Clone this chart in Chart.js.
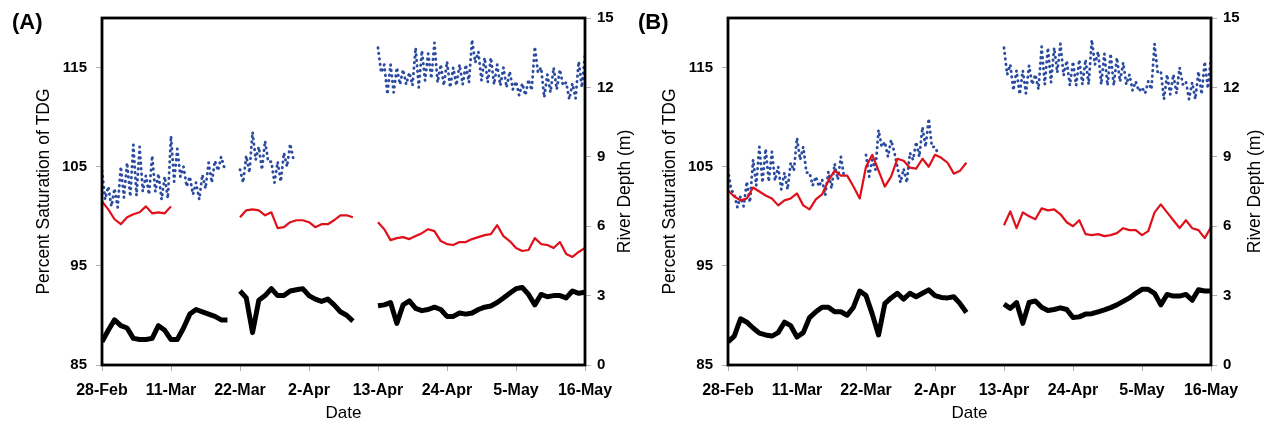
<!DOCTYPE html>
<html>
<head>
<meta charset="utf-8">
<script src="https://cdn.jsdelivr.net/npm/chart.js@4"></script>
<style>
  body { margin: 0; background: #fff; width: 1270px; height: 425px; overflow: hidden; position: relative; font-family: 'Liberation Sans', Arial, sans-serif; }
  canvas { position: absolute; top: 0; }
  .tag { position: absolute; top: 11px; font-weight: bold; font-size: 22px; line-height: 22px; }
</style>
</head>
<body>
<canvas id="chartA" width="635" height="425" style="left:0"></canvas>
<canvas id="chartB" width="635" height="425" style="left:635px"></canvas>
<div class="tag" style="left:12px">(A)</div>
<div class="tag" style="left:638px">(B)</div>
<script>
// axes
const dateLabels = ['28-Feb', '11-Mar', '22-Mar', '2-Apr', '13-Apr', '24-Apr', '5-May', '16-May'];
const dayTicks = [0, 11, 22, 33, 44, 55, 66, 77];
const tdgTicks = [85, 95, 105, 115];
const depthTicks = [0, 3, 6, 9, 12, 15];
const days = [...Array(78).keys()]; // days since 28-Feb

const n = null;

// panel A - daily max / min of the dotted TDG record
const blueMaxA = [104.6, 103.0, 102.8, 105.0, 105.4, 107.2, 107.0, 104.1, 106.1, 104.3, 104.0, 108.1, 106.8, 105.0, 104.0, 103.4, 104.2, 105.4, 105.6, 106.0,
  n, n,
  104.7, 106.1, 108.5, 107.0, 107.6, 105.5, 105.5, 106.4, 107.3,
  n, n, n, n, n, n, n, n, n, n, n, n, n,
  117.0, 115.3, 115.3, 115.0, 114.8, 114.5, 117.0, 116.7, 116.4, 117.5, 115.3, 115.6, 115.0, 115.3, 115.3, 117.8, 116.6, 116.0, 116.0, 115.3, 115.0, 114.6, 113.6, 113.4, 113.8, 117.1, 115.0, 114.3, 115.0, 114.8, 113.5, 113.4, 115.6, 116.3];
const blueMinA = [101.7, 101.0, 100.9, 101.9, 102.0, 102.1, 102.5, 102.2, 102.5, 101.7, 101.8, 103.5, 104.0, 103.0, 102.2, 101.7, 102.8, 103.4, 104.6, 104.9,
  n, n,
  103.4, 104.4, 105.7, 104.7, 105.5, 103.4, 103.5, 105.0, 105.8,
  n, n, n, n, n, n, n, n, n, n, n, n, n,
  114.5, 112.3, 112.5, 113.3, 113.3, 113.2, 113.0, 113.7, 113.9, 113.5, 113.2, 113.0, 113.2, 113.3, 113.5, 115.5, 113.7, 113.5, 113.3, 113.2, 113.0, 112.8, 112.2, 112.2, 112.7, 114.5, 112.0, 112.5, 112.8, 113.2, 111.8, 111.9, 113.0, n];
const redA = [101.5, 100.7, 99.7, 99.2, 99.9, 100.2, 100.4, 101.0, 100.3, 100.4, 100.3, 101.0,
  n, n, n, n, n, n, n, n, n, n,
  99.9, 100.6, 100.7, 100.6, 100.1, 100.4, 98.8, 98.9, 99.4, 99.6, 99.6, 99.4, 98.9, 99.2, 99.2, 99.6, 100.1, 100.1, 99.9,
  n, n, n,
  99.4, 98.7, 97.6, 97.8, 97.9, 97.7, 98.0, 98.3, 98.7, 98.5, 97.5, 97.2, 97.1, 97.4, 97.4, 97.7, 97.9, 98.1, 98.2, 99.1, 98.0, 97.5, 96.8, 96.5, 96.6, 97.8, 97.2, 97.1, 96.8, 97.4, 96.2, 95.9, 96.4, 96.8];
const depthA = [1.0, 1.5, 1.95, 1.7, 1.6, 1.15, 1.1, 1.1, 1.15, 1.7, 1.5, 1.1, 1.1, 1.6, 2.2, 2.4, 2.3, 2.2, 2.1, 1.95, 1.95,
  n,
  3.2, 2.9, 1.4, 2.8, 3.0, 3.3, 3.0, 3.0, 3.2, 3.25, 3.3, 3.0, 2.85, 2.75, 2.85, 2.6, 2.3, 2.15, 1.9,
  n, n, n,
  2.56, 2.6, 2.7, 1.8, 2.6, 2.77, 2.45, 2.35, 2.4, 2.5, 2.4, 2.1, 2.1, 2.25, 2.2, 2.25, 2.4, 2.5, 2.55, 2.7, 2.9, 3.1, 3.3, 3.35, 3.05, 2.6, 3.05, 2.95, 3.0, 3.0, 2.9, 3.2, 3.1, 3.15];

// panel B
const blueMaxB = [104.7, 102.2, 102.0, 103.5, 105.7, 107.0, 106.8, 106.5, 105.0, 104.4, 105.4, 107.9, 107.0, 104.4, 104.0, 103.7, 104.5, 105.3, 106.0,
  n, n, n,
  106.2, 105.7, 108.7, 107.5, 107.7, 105.0, 104.8, 106.4, 107.5, 109.0, 109.85, 107.0,
  n, n, n, n, n, n, n, n, n, n,
  117.0, 115.3, 114.7, 114.7, 115.2, 114.3, 117.1, 117.0, 117.0, 117.4, 115.7, 115.6, 115.8, 115.8, 117.8, 116.6, 116.4, 116.4, 116.0, 115.5, 114.3, 113.6, 113.0, 113.6, 117.4, 114.6, 114.3, 114.3, 115.0, 113.6, 113.5, 114.6, 115.6, 116.0];
const blueMinB = [102.7, 100.9, 101.0, 101.4, 103.1, 103.4, 103.5, 103.6, 102.7, 102.7, 104.6, 105.7, 104.4, 103.1, 103.0, 102.1, 102.8, 103.7, 104.0,
  n, n, n,
  104.0, 104.7, 107.0, 106.0, 106.5, 103.4, 103.4, 105.7, 106.0, 107.0, 107.0, 106.3,
  n, n, n, n, n, n, n, n, n, n,
  114.3, 112.7, 112.3, 112.4, 113.3, 112.8, 113.3, 113.5, 114.5, 114.2, 113.2, 113.2, 113.3, 113.3, 115.3, 113.3, 113.2, 113.2, 113.6, 113.3, 112.7, 112.6, 112.4, 112.8, 114.5, 111.8, 112.3, 112.4, 113.3, 111.8, 111.8, 112.3, 112.9, n];
const redB = [102.6, 102.0, 101.6, 101.8, 102.9, 102.5, 102.1, 101.8, 101.1, 101.6, 101.8, 102.3, 101.1, 100.7, 101.7, 102.2, 103.6, 104.6, 104.1, 104.1, 103.0, 101.8,
  105.0, 106.2, 104.6, 103.0, 104.0, 105.8, 105.6, 104.9, 104.8, 105.8, 105.0, 106.2, 105.9, 105.4, 104.3, 104.6, 105.4,
  n, n, n, n, n,
  99.1, 100.5, 98.8, 100.4, 100.0, 99.7, 100.8, 100.6, 100.7, 100.2, 99.4, 99.0, 99.6, 98.2, 98.1, 98.2, 98.0, 98.1, 98.3, 98.8, 98.6, 98.6, 98.1, 98.5, 100.4, 101.2, 100.4, 99.6, 98.8, 99.6, 98.8, 98.6, 97.8, 98.9];
const depthB = [1.0, 1.25, 2.0, 1.85, 1.6, 1.38, 1.3, 1.25, 1.4, 1.85, 1.7, 1.21, 1.4, 2.05, 2.3, 2.5, 2.5, 2.3, 2.3, 2.15, 2.5, 3.2, 3.0, 2.2, 1.3, 2.65, 2.9, 3.1, 2.85, 3.1, 2.95, 3.1, 3.25, 3.0, 2.92, 2.9, 2.95, 2.65, 2.27,
  n, n, n, n, n,
  2.63, 2.45, 2.7, 1.8, 2.7, 2.77, 2.5, 2.36, 2.4, 2.47, 2.4, 2.05, 2.08, 2.2, 2.22, 2.3, 2.38, 2.48, 2.6, 2.75, 2.9, 3.1, 3.27, 3.27, 3.1, 2.6, 3.05, 2.98, 2.98, 3.05, 2.8, 3.25, 3.2, 3.2];

const FONT = "'Liberation Sans', Arial, sans-serif";
Chart.defaults.font.family = FONT;
Chart.defaults.color = '#000';

function dailyPoints(vals) {
  return days.map(d => ({ x: d, y: vals[d] }));
}

// daily high then daily low, half a day apart
function zigzag(hi, lo) {
  const pts = [];
  days.forEach(d => {
    pts.push({ x: d, y: hi[d] });
    pts.push({ x: d + 0.5, y: lo[d] });
  });
  return pts;
}

const frame = {
  id: 'frame',
  afterDatasetsDraw(chart) {
    const { ctx, chartArea: a } = chart;
    ctx.save();
    ctx.strokeStyle = '#000';
    ctx.lineWidth = 2.8;
    ctx.strokeRect(a.left, a.top, a.right - a.left, a.bottom - a.top);
    ctx.restore();
  }
};

// right axis title reads bottom to top like the left one
const rightTitle = {
  id: 'rightTitle',
  afterDraw(chart, args, opts) {
    const { ctx, chartArea: a } = chart;
    ctx.save();
    ctx.font = '17.5px ' + FONT;
    ctx.fillStyle = '#000';
    ctx.textAlign = 'center';
    ctx.textBaseline = 'middle';
    ctx.translate(opts.x, (a.top + a.bottom) / 2);
    ctx.rotate(-Math.PI / 2);
    ctx.fillText('River Depth (m)', 0, 0);
    ctx.restore();
  }
};

function drawPanel(id, blueHi, blueLo, red, depth, box) {
  const tickGrid = { drawOnChartArea: false, tickLength: 6, color: '#b0b0b0', lineWidth: 1 };
  new Chart(document.getElementById(id), {
    type: 'line',
    data: {
      datasets: [
        { data: dailyPoints(red), borderColor: '#e0101a', borderWidth: 2.2, yAxisID: 'tdg' },
        { data: dailyPoints(depth), borderColor: '#000', borderWidth: 5, yAxisID: 'depth' },
        { data: zigzag(blueHi, blueLo), borderColor: '#2a4b9f', borderWidth: 2.8, borderDash: [0.5, 5],
          borderCapStyle: 'round', yAxisID: 'tdg' }
      ]
    },
    options: {
      responsive: false,
      animation: false,
      spanGaps: false,
      elements: { point: { radius: 0 }, line: { tension: 0, borderJoinStyle: 'round' } },
      layout: { padding: { top: 13, left: 0, right: 0, bottom: 0 } },
      plugins: { legend: { display: false }, tooltip: { enabled: false }, rightTitle: { x: box.rightTitleX } },
      scales: {
        x: {
          type: 'linear', position: 'bottom', min: 0, max: 77,
          afterBuildTicks: s => { s.ticks = dayTicks.map(v => ({ value: v })); },
          afterFit: s => { s.height = 60; },
          ticks: { font: { size: 16, weight: 'bold' }, padding: 10, maxRotation: 0, autoSkip: false,
                   callback: (v, i) => dateLabels[i] },
          grid: tickGrid,
          border: { display: false },
          title: { display: true, text: 'Date', font: { size: 17 }, padding: { top: 0, bottom: 1 } }
        },
        tdg: {
          type: 'linear', position: 'left', min: 85, max: 120,
          afterBuildTicks: s => { s.ticks = tdgTicks.map(v => ({ value: v })); },
          afterFit: s => { s.width = box.left; },
          ticks: { font: { size: 15, weight: 'bold' }, padding: 9 },
          grid: tickGrid,
          border: { display: false },
          title: { display: true, text: 'Percent Saturation of TDG', font: { size: 17.5 }, padding: { top: box.leftTitlePad } }
        },
        depth: {
          type: 'linear', position: 'right', min: 0, max: 15,
          afterBuildTicks: s => { s.ticks = depthTicks.map(v => ({ value: v })); },
          afterFit: s => { s.width = box.right; },
          ticks: { font: { size: 15, weight: 'bold' }, padding: 6 },
          grid: tickGrid,
          border: { display: false }
        }
      }
    },
    plugins: [frame, rightTitle]
  });
}

drawPanel('chartA', blueMaxA, blueMinA, redA, depthA, { left: 102, right: 50, leftTitlePad: 34, rightTitleX: 625 });
drawPanel('chartB', blueMaxB, blueMinB, redB, depthB, { left: 93, right: 59, leftTitlePad: 25, rightTitleX: 620 });
</script>
</body>
</html>
